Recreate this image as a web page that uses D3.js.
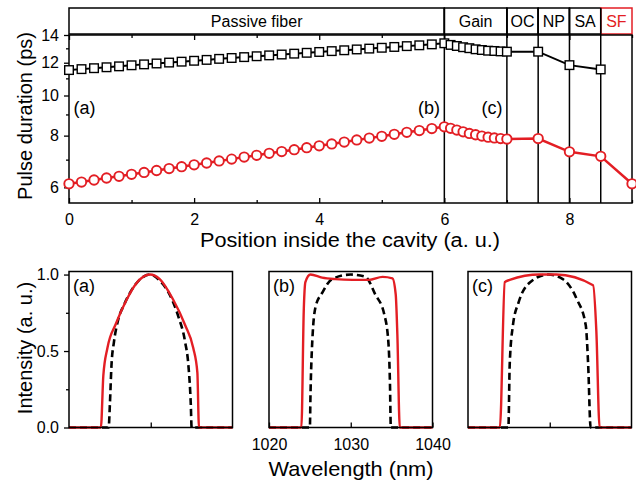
<!DOCTYPE html>
<meta charset="utf-8">
<script src="https://d3js.org/d3.v7.min.js"></script>
<style>
  body { margin: 0; background: #fff; }
  text { font-family: "Liberation Sans", Arial, sans-serif; }
</style>
<svg id="chart" width="636" height="483"></svg>
<script>

// cavity positions (a. u.) and pulse durations (ps)
var position = [0, 0.2, 0.4, 0.6, 0.8, 1.0, 1.2, 1.4, 1.6, 1.8, 2.0, 2.2, 2.4, 2.6, 2.8,
  3.0, 3.2, 3.4, 3.6, 3.8, 4.0, 4.2, 4.4, 4.6, 4.8, 5.0, 5.2, 5.4, 5.6, 5.8,
  6.0, 6.1, 6.2, 6.3, 6.4, 6.5, 6.6, 6.7, 6.8, 6.9, 7.0, 7.5, 8.0, 8.5, 9.0]

var squareDur = [11.52, 11.58, 11.64, 11.70, 11.76, 11.83, 11.89, 11.95, 12.01, 12.07,
  12.13, 12.19, 12.26, 12.32, 12.38, 12.44, 12.50, 12.56, 12.62, 12.68,
  12.74, 12.80, 12.86, 12.92, 12.98, 13.04, 13.10, 13.16, 13.22, 13.29,
  13.37, 13.25, 13.17, 13.08, 13.01, 12.93, 12.88, 12.83, 12.81, 12.78, 12.76,
  12.76, 11.84, 11.56]

var circleDur = [6.12, 6.18, 6.25, 6.32, 6.38, 6.45, 6.52, 6.59, 6.66, 6.73,
  6.80, 6.87, 6.95, 7.02, 7.10, 7.17, 7.25, 7.32, 7.40, 7.48,
  7.56, 7.64, 7.72, 7.81, 7.89, 7.97, 8.06, 8.15, 8.23, 8.32,
  8.40, 8.33, 8.25, 8.17, 8.10, 8.04, 7.98, 7.93, 7.90, 7.87, 7.85,
  7.87, 7.31, 7.13, 6.12]

var sections = ["Passive fiber", "Gain", "OC", "NP", "SA", "SF"]
var sectionEdges = [0, 6, 7, 7.5, 8, 8.5, 9]

var xTicksMajor = [0, 2, 4, 6, 8]
var xTicksMinor = [1, 3, 5, 7, 9]
var yTicksMajor = [6, 8, 10, 12, 14]
var yTicksMinor = [7, 9, 11, 13]

// spectra (nm, a. u.)
var wlRedA = [1020, 1023.9, 1024.2, 1024.7, 1025.75, 1027.0, 1028.2, 1029.9, 1031.1, 1032.7, 1034.2, 1035.2, 1035.7, 1035.9, 1040]
var inRedA = [0, 0, 0.34, 0.52, 0.68, 0.83, 0.94, 1.0, 0.97, 0.84, 0.67, 0.52, 0.36, 0, 0]
var wlBlkA = [1020, 1024.85, 1025.0, 1025.2, 1025.5, 1025.95, 1026.8, 1028.2, 1029.9, 1031.1, 1032.3, 1033.35, 1034.2, 1034.6, 1034.9, 1035.0, 1040]
var inBlkA = [0, 0, 0.15, 0.41, 0.56, 0.69, 0.81, 0.94, 1.0, 0.96, 0.87, 0.73, 0.56, 0.41, 0.15, 0, 0]

var wlRedB = [1020, 1023.96, 1024.26, 1024.45, 1025.07, 1026.5, 1028.1, 1030.2, 1032.2, 1033.9, 1035.1, 1035.5, 1035.7, 1036.0, 1040]
var inRedB = [0, 0, 0.78, 0.95, 1.0, 0.98, 0.97, 0.965, 0.965, 0.985, 0.975, 0.87, 0.61, 0, 0]
var wlBlkB = [1020, 1025.0, 1025.07, 1025.3, 1025.7, 1026.5, 1027.7, 1030.0, 1031.8, 1033.0, 1034.1, 1034.6, 1034.8, 1034.9, 1040]
var inBlkB = [0, 0, 0.2, 0.57, 0.79, 0.88, 0.97, 1.0, 0.985, 0.87, 0.74, 0.56, 0.28, 0, 0]

var wlRedC = [1020, 1023.9, 1024.5, 1025.1, 1028.8, 1030.8, 1035.3, 1035.7, 1036.1, 1040]
var inRedC = [0, 0, 0.95, 0.965, 1.0, 1.0, 0.93, 0.63, 0, 0]
var wlBlkC = [1020, 1024.94, 1025.1, 1025.5, 1026.2, 1027.6, 1029.8, 1031.6, 1033.3, 1034.4, 1034.7, 1035.0, 1040]
var inBlkC = [0, 0, 0.41, 0.67, 0.82, 0.95, 1.0, 0.97, 0.84, 0.67, 0.41, 0, 0]

var wlTicks = [1020, 1030, 1040]
var intTicksMajor = [0, 0.5, 1.0]
var intTicksMinor = [0.25, 0.75]

var red = "#e31e24"

var svg = d3.select("#chart")

// ---------- top panel ----------
var x = d3.scaleLinear().domain([0, 9]).range([69, 632])
var y = d3.scaleLog().domain([5.5, 14]).range([203, 35])

// section band
var band = svg.append("g")
sections.forEach(function(name, i) {
  var x0 = x(sectionEdges[i]), x1 = x(sectionEdges[i + 1])
  var col = name == "SF" ? red : "#000"
  band.append("rect")
    .attr("x", x0).attr("y", 8)
    .attr("width", x1 - x0).attr("height", 26)
    .attr("fill", "none").attr("stroke", col).attr("stroke-width", 1.5)
  band.append("text")
    .attr("x", (x0 + x1) / 2).attr("y", 27)
    .attr("text-anchor", "middle")
    .attr("font-size", 16)
    .attr("fill", col)
    .text(name)
})

// axes
function noDomain(g) { g.select(".domain").remove() }
function tickFont(g, size) { g.selectAll("text").attr("font-size", size).attr("fill", "#000").style("font-family", "Liberation Sans, Arial, sans-serif") }

svg.append("g").attr("transform", "translate(0,203)")
  .call(d3.axisBottom(x).tickValues(xTicksMajor).tickSize(-5).tickPadding(10.5))
  .call(noDomain).call(function(g){ tickFont(g, 16) })
svg.append("g").attr("transform", "translate(0,203)")
  .call(d3.axisBottom(x).tickValues(xTicksMinor).tickSize(-3).tickFormat(""))
  .call(noDomain)
svg.append("g").attr("transform", "translate(0,35)")
  .call(d3.axisTop(x).tickValues(xTicksMajor).tickSize(-5).tickFormat(""))
  .call(noDomain)
svg.append("g").attr("transform", "translate(0,35)")
  .call(d3.axisTop(x).tickValues(xTicksMinor).tickSize(-3).tickFormat(""))
  .call(noDomain)
svg.append("g").attr("transform", "translate(69,0)")
  .call(d3.axisLeft(y).tickValues(yTicksMajor).tickSize(5).tickPadding(5).tickFormat(d3.format("d")))
  .call(noDomain).call(function(g){ tickFont(g, 16) })
svg.append("g").attr("transform", "translate(69,0)")
  .call(d3.axisLeft(y).tickValues(yTicksMinor).tickSize(3).tickFormat(""))
  .call(noDomain)

svg.selectAll(".tick line").attr("stroke", "#000").attr("stroke-width", 1.3)

// section dividers
svg.append("g").selectAll("line")
  .data(sectionEdges.slice(1, -1))
  .join("line")
    .attr("x1", function(d){ return x(d) }).attr("x2", function(d){ return x(d) })
    .attr("y1", 8).attr("y2", 203)
    .attr("stroke", "#000").attr("stroke-width", 1.5)

svg.append("rect")
  .attr("x", 69).attr("y", 35).attr("width", 563).attr("height", 168)
  .attr("fill", "none").attr("stroke", "#000").attr("stroke-width", 1.5)

// series
var sqData = squareDur.map(function(v, i){ return [position[i], v] })
var ciData = circleDur.map(function(v, i){ return [position[i], v] })
var line = d3.line().x(function(d){ return x(d[0]) }).y(function(d){ return y(d[1]) })

svg.append("path").datum(sqData).attr("d", line)
  .attr("fill", "none").attr("stroke", "#000").attr("stroke-width", 2)
svg.append("path").datum(ciData).attr("d", line)
  .attr("fill", "none").attr("stroke", red).attr("stroke-width", 2.5)

svg.append("g").selectAll("rect")
  .data(sqData)
  .join("rect")
    .attr("x", function(d){ return x(d[0]) - 4.3 })
    .attr("y", function(d){ return y(d[1]) - 4.3 })
    .attr("width", 8.6).attr("height", 8.6)
    .attr("fill", "#fff").attr("stroke", "#000").attr("stroke-width", 1.4)

svg.append("g").selectAll("circle")
  .data(ciData)
  .join("circle")
    .attr("cx", function(d){ return x(d[0]) })
    .attr("cy", function(d){ return y(d[1]) })
    .attr("r", 4.7)
    .attr("fill", "#fff").attr("stroke", red).attr("stroke-width", 1.9)

// annotations
var notes = [["(a)", 84.5], ["(b)", 429], ["(c)", 492]]
svg.append("g").selectAll("text")
  .data(notes)
  .join("text")
    .attr("x", function(d){ return d[1] }).attr("y", 114)
    .attr("text-anchor", "middle").attr("font-size", 18)
    .text(function(d){ return d[0] })

svg.append("text")
  .attr("x", 350).attr("y", 247)
  .attr("text-anchor", "middle").attr("font-size", 20)
  .attr("textLength", 300).attr("lengthAdjust", "spacingAndGlyphs")
  .text("Position inside the cavity (a. u.)")

svg.append("text")
  .attr("transform", "translate(31.5,116) rotate(-90)")
  .attr("text-anchor", "middle").attr("font-size", 20)
  .text("Pulse duration (ps)")

// ---------- spectra panels ----------
var panels = [
  { label: "(a)", left: 69, wr: wlRedA, ir: inRedA, wb: wlBlkA, ib: inBlkA },
  { label: "(b)", left: 269, wr: wlRedB, ir: inRedB, wb: wlBlkB, ib: inBlkB },
  { label: "(c)", left: 468, wr: wlRedC, ir: inRedC, wb: wlBlkC, ib: inBlkC }
]
var pTop = 271.5, pBot = 427.5, pW = 163.5
var yI = d3.scaleLinear().domain([0, 1.02]).range([pBot, pTop])

panels.forEach(function(p, k) {
  var xw = d3.scaleLinear().domain([1020, 1040]).range([p.left, p.left + pW])
  var g = svg.append("g")

  var specLine = d3.line()
    .x(function(d){ return xw(d[0]) }).y(function(d){ return yI(d[1]) })
    .curve(d3.curveMonotoneX)

  g.append("path")
    .datum(p.wb.map(function(w, i){ return [w, p.ib[i]] }))
    .attr("d", specLine)
    .attr("fill", "none").attr("stroke", "#000").attr("stroke-width", 2.6)
    .attr("stroke-dasharray", "7,4")
  g.append("path")
    .datum(p.wr.map(function(w, i){ return [w, p.ir[i]] }))
    .attr("d", specLine)
    .attr("fill", "none").attr("stroke", red).attr("stroke-width", 2.4)

  var ax = d3.axisBottom(xw).tickValues(k == 1 ? wlTicks : [1030]).tickSize(-5).tickPadding(11)
    .tickFormat(k == 1 ? d3.format("d") : "")
  g.append("g").attr("transform", "translate(0," + pBot + ")")
    .call(ax).call(noDomain).call(function(gg){ tickFont(gg, 16) })

  if (k == 0) {
    g.append("g").attr("transform", "translate(" + p.left + ",0)")
      .call(d3.axisLeft(yI).tickValues(intTicksMajor).tickSize(5).tickPadding(5).tickFormat(d3.format(".1f")))
      .call(noDomain).call(function(gg){ tickFont(gg, 16) })
    g.append("g").attr("transform", "translate(" + p.left + ",0)")
      .call(d3.axisLeft(yI).tickValues(intTicksMinor).tickSize(3).tickFormat(""))
      .call(noDomain)
  }
  g.selectAll(".tick line").attr("stroke", "#000").attr("stroke-width", 1.3)

  g.append("rect")
    .attr("x", p.left).attr("y", pTop).attr("width", pW).attr("height", pBot - pTop)
    .attr("fill", "none").attr("stroke", "#000").attr("stroke-width", 1.5)

  g.append("text")
    .attr("x", p.left + 4).attr("y", 292)
    .attr("font-size", 18)
    .text(p.label)
})

svg.append("text")
  .attr("x", 351).attr("y", 476)
  .attr("text-anchor", "middle").attr("font-size", 21)
  .attr("textLength", 165).attr("lengthAdjust", "spacingAndGlyphs")
  .text("Wavelength (nm)")

svg.append("text")
  .attr("transform", "translate(31.5,348) rotate(-90)")
  .attr("text-anchor", "middle").attr("font-size", 20)
  .text("Intensity (a. u.)")

</script>
